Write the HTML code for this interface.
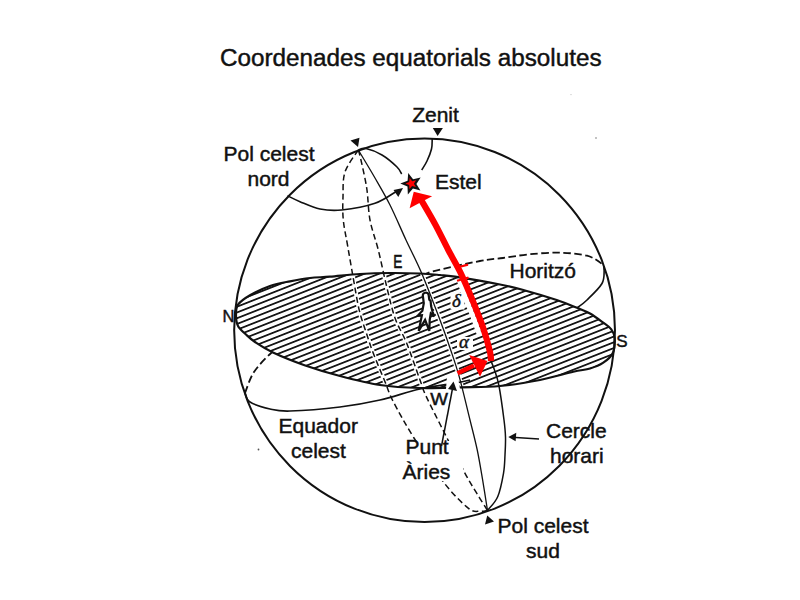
<!DOCTYPE html>
<html><head><meta charset="utf-8"><style>
html,body{margin:0;padding:0;background:#fff;width:800px;height:600px;overflow:hidden}
svg{display:block}
</style></head><body>
<svg width="800" height="600" viewBox="0 0 800 600">
<defs>
<pattern id="hatch" patternUnits="userSpaceOnUse" width="20" height="5.35" patternTransform="rotate(-21.5) translate(0,2.2)">
<rect x="0" y="0" width="20" height="1.75" fill="#111"/>
</pattern>
<mask id="outell"><rect x="0" y="0" width="800" height="600" fill="#fff"/><path d="M236.00,315.30 C236.00,311.75 235.67,308.03 238.00,304.70 C240.33,301.37 244.67,298.42 250.00,295.30 C255.33,292.18 263.33,288.33 270.00,286.00 C276.67,283.67 283.33,282.63 290.00,281.30 C296.67,279.97 303.33,278.77 310.00,278.00 C316.67,277.23 321.67,277.37 330.00,276.70 C338.33,276.03 350.00,274.62 360.00,274.00 C370.00,273.38 380.00,273.08 390.00,273.00 C400.00,272.92 411.67,273.17 420.00,273.50 C428.33,273.83 434.17,274.47 440.00,275.00 C445.83,275.53 445.00,275.12 455.00,276.70 C465.00,278.28 488.62,282.28 500.00,284.50 C511.38,286.72 513.85,287.42 523.30,290.00 C532.75,292.58 547.75,297.03 556.70,300.00 C565.65,302.97 571.45,305.55 577.00,307.80 C582.55,310.05 585.62,311.02 590.00,313.50 C594.38,315.98 599.75,320.07 603.30,322.70 C606.85,325.33 609.40,326.75 611.30,329.30 C613.20,331.85 614.47,334.00 614.70,338.00 C614.93,342.00 614.60,349.18 612.70,353.30 C610.80,357.42 607.08,360.17 603.30,362.70 C599.52,365.23 595.00,367.00 590.00,368.50 C585.00,370.00 581.63,369.78 573.30,371.70 C564.97,373.62 552.22,377.62 540.00,380.00 C527.78,382.38 513.17,384.78 500.00,386.00 C486.83,387.22 474.33,386.97 461.00,387.30 C447.67,387.63 433.50,388.38 420.00,388.00 C406.50,387.62 393.33,387.00 380.00,385.00 C366.67,383.00 352.58,379.30 340.00,376.00 C327.42,372.70 315.67,369.12 304.50,365.20 C293.33,361.28 281.25,356.37 273.00,352.50 C264.75,348.63 259.50,345.00 255.00,342.00 C250.50,339.00 248.83,337.17 246.00,334.50 C243.17,331.83 239.67,329.20 238.00,326.00 C236.33,322.80 236.00,318.85 236.00,315.30 Z" fill="#000"/></mask>
<clipPath id="ellclip"><path d="M236.00,315.30 C236.00,311.75 235.67,308.03 238.00,304.70 C240.33,301.37 244.67,298.42 250.00,295.30 C255.33,292.18 263.33,288.33 270.00,286.00 C276.67,283.67 283.33,282.63 290.00,281.30 C296.67,279.97 303.33,278.77 310.00,278.00 C316.67,277.23 321.67,277.37 330.00,276.70 C338.33,276.03 350.00,274.62 360.00,274.00 C370.00,273.38 380.00,273.08 390.00,273.00 C400.00,272.92 411.67,273.17 420.00,273.50 C428.33,273.83 434.17,274.47 440.00,275.00 C445.83,275.53 445.00,275.12 455.00,276.70 C465.00,278.28 488.62,282.28 500.00,284.50 C511.38,286.72 513.85,287.42 523.30,290.00 C532.75,292.58 547.75,297.03 556.70,300.00 C565.65,302.97 571.45,305.55 577.00,307.80 C582.55,310.05 585.62,311.02 590.00,313.50 C594.38,315.98 599.75,320.07 603.30,322.70 C606.85,325.33 609.40,326.75 611.30,329.30 C613.20,331.85 614.47,334.00 614.70,338.00 C614.93,342.00 614.60,349.18 612.70,353.30 C610.80,357.42 607.08,360.17 603.30,362.70 C599.52,365.23 595.00,367.00 590.00,368.50 C585.00,370.00 581.63,369.78 573.30,371.70 C564.97,373.62 552.22,377.62 540.00,380.00 C527.78,382.38 513.17,384.78 500.00,386.00 C486.83,387.22 474.33,386.97 461.00,387.30 C447.67,387.63 433.50,388.38 420.00,388.00 C406.50,387.62 393.33,387.00 380.00,385.00 C366.67,383.00 352.58,379.30 340.00,376.00 C327.42,372.70 315.67,369.12 304.50,365.20 C293.33,361.28 281.25,356.37 273.00,352.50 C264.75,348.63 259.50,345.00 255.00,342.00 C250.50,339.00 248.83,337.17 246.00,334.50 C243.17,331.83 239.67,329.20 238.00,326.00 C236.33,322.80 236.00,318.85 236.00,315.30 Z"/></clipPath>
</defs>
<path d="M236.00,315.30 C236.00,311.75 235.67,308.03 238.00,304.70 C240.33,301.37 244.67,298.42 250.00,295.30 C255.33,292.18 263.33,288.33 270.00,286.00 C276.67,283.67 283.33,282.63 290.00,281.30 C296.67,279.97 303.33,278.77 310.00,278.00 C316.67,277.23 321.67,277.37 330.00,276.70 C338.33,276.03 350.00,274.62 360.00,274.00 C370.00,273.38 380.00,273.08 390.00,273.00 C400.00,272.92 411.67,273.17 420.00,273.50 C428.33,273.83 434.17,274.47 440.00,275.00 C445.83,275.53 445.00,275.12 455.00,276.70 C465.00,278.28 488.62,282.28 500.00,284.50 C511.38,286.72 513.85,287.42 523.30,290.00 C532.75,292.58 547.75,297.03 556.70,300.00 C565.65,302.97 571.45,305.55 577.00,307.80 C582.55,310.05 585.62,311.02 590.00,313.50 C594.38,315.98 599.75,320.07 603.30,322.70 C606.85,325.33 609.40,326.75 611.30,329.30 C613.20,331.85 614.47,334.00 614.70,338.00 C614.93,342.00 614.60,349.18 612.70,353.30 C610.80,357.42 607.08,360.17 603.30,362.70 C599.52,365.23 595.00,367.00 590.00,368.50 C585.00,370.00 581.63,369.78 573.30,371.70 C564.97,373.62 552.22,377.62 540.00,380.00 C527.78,382.38 513.17,384.78 500.00,386.00 C486.83,387.22 474.33,386.97 461.00,387.30 C447.67,387.63 433.50,388.38 420.00,388.00 C406.50,387.62 393.33,387.00 380.00,385.00 C366.67,383.00 352.58,379.30 340.00,376.00 C327.42,372.70 315.67,369.12 304.50,365.20 C293.33,361.28 281.25,356.37 273.00,352.50 C264.75,348.63 259.50,345.00 255.00,342.00 C250.50,339.00 248.83,337.17 246.00,334.50 C243.17,331.83 239.67,329.20 238.00,326.00 C236.33,322.80 236.00,318.85 236.00,315.30 Z" fill="url(#hatch)" stroke="none"/>
<path d="M459.50,281.00 C460.58,284.00 463.67,292.83 466.00,299.00 C468.33,305.17 471.25,312.00 473.50,318.00 C475.75,324.00 478.50,332.17 479.50,335.00" fill="none" stroke="#fff" stroke-width="5" clip-path="url(#ellclip)"/>
<rect x="450.5" y="292.5" width="14" height="17" fill="#fff"/>
<rect x="457" y="337" width="16" height="13" fill="#fff"/>
<path d="M358.30,150.00 C356.08,153.67 347.55,164.17 345.00,172.00 C342.45,179.83 343.28,189.00 343.00,197.00 C342.72,205.00 342.55,212.00 343.30,220.00 C344.05,228.00 345.83,235.28 347.50,245.00 C349.17,254.72 351.35,267.47 353.30,278.30 C355.25,289.13 357.08,301.05 359.20,310.00 C361.32,318.95 363.65,324.78 366.00,332.00 C368.35,339.22 370.13,345.02 373.30,353.30 C376.47,361.58 381.67,373.63 385.00,381.70 C388.33,389.77 388.47,392.32 393.30,401.70 C398.13,411.08 405.55,424.50 414.00,438.00 C422.45,451.50 434.92,470.98 444.00,482.70 C453.08,494.42 462.47,503.54 468.50,508.30 C474.53,513.06 477.03,510.88 480.20,511.25 C483.37,511.62 486.28,510.62 487.50,510.50" fill="none" stroke="#fff" stroke-width="4" clip-path="url(#ellclip)"/>
<path d="M358.30,150.00 C358.67,151.33 359.10,151.67 360.50,158.00 C361.90,164.33 365.12,177.67 366.70,188.00 C368.28,198.33 368.07,209.67 370.00,220.00 C371.93,230.33 375.52,238.88 378.30,250.00 C381.08,261.12 383.92,275.37 386.70,286.70 C389.48,298.03 391.67,308.57 395.00,318.00 C398.33,327.43 402.53,332.97 406.70,343.30 C410.87,353.63 416.78,371.22 420.00,380.00 C423.22,388.78 422.00,387.33 426.00,396.00 C430.00,404.67 437.50,419.12 444.00,432.00 C450.50,444.88 459.55,463.10 465.00,473.30 C470.45,483.50 472.95,487.00 476.70,493.20 C480.45,499.40 485.70,507.62 487.50,510.50" fill="none" stroke="#fff" stroke-width="4" clip-path="url(#ellclip)"/>
<path d="M358.30,150.00 C361.08,154.67 369.72,168.83 375.00,178.00 C380.28,187.17 384.83,194.67 390.00,205.00 C395.17,215.33 400.72,228.62 406.00,240.00 C411.28,251.38 416.03,259.97 421.70,273.30 C427.37,286.63 435.28,307.55 440.00,320.00 C444.72,332.45 446.80,338.55 450.00,348.00 C453.20,357.45 455.87,364.70 459.20,376.70 C462.53,388.70 466.99,407.78 470.00,420.00 C473.01,432.22 475.17,440.13 477.25,450.00 C479.33,459.87 480.79,469.12 482.50,479.20 C484.21,489.28 486.67,505.28 487.50,510.50" fill="none" stroke="#fff" stroke-width="4" clip-path="url(#ellclip)"/>
<path d="M236.00,315.30 C236.00,311.75 235.67,308.03 238.00,304.70 C240.33,301.37 244.67,298.42 250.00,295.30 C255.33,292.18 263.33,288.33 270.00,286.00 C276.67,283.67 283.33,282.63 290.00,281.30 C296.67,279.97 303.33,278.77 310.00,278.00 C316.67,277.23 321.67,277.37 330.00,276.70 C338.33,276.03 350.00,274.62 360.00,274.00 C370.00,273.38 380.00,273.08 390.00,273.00 C400.00,272.92 411.67,273.17 420.00,273.50 C428.33,273.83 434.17,274.47 440.00,275.00 C445.83,275.53 445.00,275.12 455.00,276.70 C465.00,278.28 488.62,282.28 500.00,284.50 C511.38,286.72 513.85,287.42 523.30,290.00 C532.75,292.58 547.75,297.03 556.70,300.00 C565.65,302.97 571.45,305.55 577.00,307.80 C582.55,310.05 585.62,311.02 590.00,313.50 C594.38,315.98 599.75,320.07 603.30,322.70 C606.85,325.33 609.40,326.75 611.30,329.30 C613.20,331.85 614.47,334.00 614.70,338.00 C614.93,342.00 614.60,349.18 612.70,353.30 C610.80,357.42 607.08,360.17 603.30,362.70 C599.52,365.23 595.00,367.00 590.00,368.50 C585.00,370.00 581.63,369.78 573.30,371.70 C564.97,373.62 552.22,377.62 540.00,380.00 C527.78,382.38 513.17,384.78 500.00,386.00 C486.83,387.22 474.33,386.97 461.00,387.30 C447.67,387.63 433.50,388.38 420.00,388.00 C406.50,387.62 393.33,387.00 380.00,385.00 C366.67,383.00 352.58,379.30 340.00,376.00 C327.42,372.70 315.67,369.12 304.50,365.20 C293.33,361.28 281.25,356.37 273.00,352.50 C264.75,348.63 259.50,345.00 255.00,342.00 C250.50,339.00 248.83,337.17 246.00,334.50 C243.17,331.83 239.67,329.20 238.00,326.00 C236.33,322.80 236.00,318.85 236.00,315.30 Z" fill="none" stroke="#111" stroke-width="2.2"/>
<ellipse cx="424.57" cy="330.3" rx="190.4" ry="191.8" fill="none" stroke="#111" stroke-width="2"/>
<path d="M245.00,393.00 C246.50,389.50 249.55,378.75 254.00,372.00 C258.45,365.25 265.87,357.70 271.70,352.50 C277.53,347.30 284.62,344.05 289.00,340.80 C293.38,337.55 294.00,335.63 298.00,333.00 C302.00,330.37 307.67,327.72 313.00,325.00 C318.33,322.28 317.72,322.82 330.00,316.70 C342.28,310.58 371.70,294.83 386.70,288.30 C401.70,281.77 412.50,280.27 420.00,277.50 C427.50,274.73 421.70,274.45 431.70,271.70 C441.70,268.95 468.12,263.28 480.00,261.00 C491.88,258.72 494.67,259.13 503.00,258.00 C511.33,256.87 520.50,255.08 530.00,254.20 C539.50,253.32 550.50,252.45 560.00,252.70 C569.50,252.95 580.00,253.82 587.00,255.70 C594.00,257.58 599.13,261.62 602.00,264.00 C604.87,266.38 603.83,269.00 604.20,270.00" fill="none" stroke="#111" stroke-width="1.8" stroke-dasharray="7.5 3.5" mask="url(#outell)"/>
<path d="M358.30,150.00 C356.08,153.67 347.55,164.17 345.00,172.00 C342.45,179.83 343.28,189.00 343.00,197.00 C342.72,205.00 342.55,212.00 343.30,220.00 C344.05,228.00 345.83,235.28 347.50,245.00 C349.17,254.72 351.35,267.47 353.30,278.30 C355.25,289.13 357.08,301.05 359.20,310.00 C361.32,318.95 363.65,324.78 366.00,332.00 C368.35,339.22 370.13,345.02 373.30,353.30 C376.47,361.58 381.67,373.63 385.00,381.70 C388.33,389.77 388.47,392.32 393.30,401.70 C398.13,411.08 405.55,424.50 414.00,438.00 C422.45,451.50 434.92,470.98 444.00,482.70 C453.08,494.42 462.47,503.54 468.50,508.30 C474.53,513.06 477.03,510.88 480.20,511.25 C483.37,511.62 486.28,510.62 487.50,510.50" fill="none" stroke="#111" stroke-width="1.5" stroke-dasharray="6 3.5"/>
<path d="M358.30,150.00 C358.67,151.33 359.10,151.67 360.50,158.00 C361.90,164.33 365.12,177.67 366.70,188.00 C368.28,198.33 368.07,209.67 370.00,220.00 C371.93,230.33 375.52,238.88 378.30,250.00 C381.08,261.12 383.92,275.37 386.70,286.70 C389.48,298.03 391.67,308.57 395.00,318.00 C398.33,327.43 402.53,332.97 406.70,343.30 C410.87,353.63 416.78,371.22 420.00,380.00 C423.22,388.78 422.00,387.33 426.00,396.00 C430.00,404.67 437.50,419.12 444.00,432.00 C450.50,444.88 459.55,463.10 465.00,473.30 C470.45,483.50 472.95,487.00 476.70,493.20 C480.45,499.40 485.70,507.62 487.50,510.50" fill="none" stroke="#111" stroke-width="1.5" stroke-dasharray="6 3.5"/>
<path d="M604.20,270.00 C603.83,272.25 604.87,278.50 602.00,283.50 C599.13,288.50 591.17,295.92 587.00,300.00 C582.83,304.08 578.67,306.67 577.00,308.00" fill="none" stroke="#111" stroke-width="1.6"/>
<path d="M245.00,393.00 C245.83,394.50 245.83,399.33 250.00,402.00 C254.17,404.67 263.33,407.50 270.00,409.00 C276.67,410.50 278.33,411.33 290.00,411.00 C301.67,410.67 325.00,408.83 340.00,407.00 C355.00,405.17 366.67,403.00 380.00,400.00 C393.33,397.00 407.33,391.83 420.00,389.00 C432.67,386.17 447.67,384.50 456.00,383.00 C464.33,381.50 467.67,380.50 470.00,380.00" fill="none" stroke="#111" stroke-width="1.7"/>
<path d="M358.30,150.00 C361.08,154.67 369.72,168.83 375.00,178.00 C380.28,187.17 384.83,194.67 390.00,205.00 C395.17,215.33 400.72,228.62 406.00,240.00 C411.28,251.38 416.03,259.97 421.70,273.30 C427.37,286.63 435.28,307.55 440.00,320.00 C444.72,332.45 446.80,338.55 450.00,348.00 C453.20,357.45 455.87,364.70 459.20,376.70 C462.53,388.70 466.99,407.78 470.00,420.00 C473.01,432.22 475.17,440.13 477.25,450.00 C479.33,459.87 480.79,469.12 482.50,479.20 C484.21,489.28 486.67,505.28 487.50,510.50" fill="none" stroke="#111" stroke-width="1.3"/>
<path d="M358.30,150.00 C359.58,149.75 362.05,147.67 366.00,148.50 C369.95,149.33 376.83,151.92 382.00,155.00 C387.17,158.08 393.72,163.83 397.00,167.00 C400.28,170.17 400.92,172.83 401.70,174.00" fill="none" stroke="#111" stroke-width="1.6"/>
<path d="M491.00,361.00 C491.58,362.50 493.17,365.83 494.50,370.00 C495.83,374.17 497.42,377.67 499.00,386.00 C500.58,394.33 502.92,411.50 504.00,420.00 C505.08,428.50 505.33,431.17 505.50,437.00 C505.67,442.83 505.33,448.95 505.00,455.00 C504.67,461.05 504.72,466.35 503.50,473.30 C502.28,480.25 500.37,490.50 497.70,496.70 C495.03,502.90 489.20,508.20 487.50,510.50" fill="none" stroke="#111" stroke-width="1.5"/>
<path d="M432.20,139.00 C432.08,140.67 432.37,145.33 431.50,149.00 C430.63,152.67 428.63,157.50 427.00,161.00 C425.37,164.50 422.58,168.50 421.70,170.00" fill="none" stroke="#111" stroke-width="1.6"/>
<path d="M287.50,195.80 C289.58,196.78 294.58,199.50 300.00,201.70 C305.42,203.90 313.05,207.62 320.00,209.00 C326.95,210.38 332.53,210.95 341.70,210.00 C350.87,209.05 365.78,206.47 375.00,203.30 C384.22,200.13 393.33,193.05 397.00,191.00" fill="none" stroke="#111" stroke-width="1.6"/>
<path d="M420.00,198.00 C422.50,202.33 430.28,215.33 435.00,224.00 C439.72,232.67 444.13,242.05 448.30,250.00 C452.47,257.95 456.10,263.65 460.00,271.70 C463.90,279.75 467.82,288.87 471.70,298.30 C475.58,307.73 480.25,319.35 483.30,328.30 C486.35,337.25 488.72,346.55 490.00,352.00 C491.28,357.45 490.83,359.50 491.00,361.00" fill="none" stroke="#f00" stroke-width="6.2"/>
<polygon points="413.75,191.7 432.1,196.25 409.6,208.3" fill="#f00"/>
<path d="M458,267.2 L468,264.6 M457,280.8 L468.5,277.6" stroke="#f00" stroke-width="2.2" fill="none"/>
<line x1="457.5" y1="373.3" x2="474" y2="365.5" stroke="#f00" stroke-width="4.5"/>
<polygon points="469.2,355 487.5,361 480,376.7" fill="#f00"/>
<polygon points="408.23,173.09 413.10,179.17 420.67,177.38 416.40,183.89 420.44,190.54 412.93,188.49 407.85,194.39 407.49,186.61 400.30,183.60 407.59,180.85" fill="#111"/>
<polygon points="409.60,178.05 412.15,181.14 416.05,180.27 413.90,183.65 415.93,187.09 412.06,186.09 409.41,189.08 409.17,185.09 405.50,183.50 409.22,182.04" fill="#f00"/>
<polygon points="350.5,140.5 359.5,137.7 358,147" fill="#111"/>
<polygon points="432.8,128 442.9,128 437.6,135.9" fill="#111"/>
<polygon points="487.25,515.6 494,521.5 485,524.5" fill="#111"/>
<polygon points="403,188 393.5,190 398.3,197" fill="#111"/>
<rect x="400" y="441" width="63" height="40" fill="#fff"/>
<polygon points="446,389 447,377 457,372 460,389" fill="#fff"/>
<line x1="441.5" y1="446" x2="453" y2="386" stroke="#111" stroke-width="1.5"/>
<polygon points="453.5,381.5 448,389 457,391" fill="#111"/>
<line x1="539" y1="439" x2="512" y2="437.2" stroke="#111" stroke-width="1.5"/>
<polygon points="508.3,437 516.3,432.8 515.6,441.3" fill="#111"/>
<path d="M422.8,295.5 C422.8,292.5 427.5,291.5 428.6,294.5 L429.3,299.7 L430.6,300.8 L431.1,306.1 L432.5,311.6 L434.3,316.5 L430.8,313.4 L429.7,319.9 L429.3,330.9 L425.1,319.9 L418.7,330.9 L421.9,315.3 L417.8,315.6 L422.4,310.7 L423.8,303.3 Z" fill="#fff" stroke="#111" stroke-width="2.2" stroke-linejoin="miter"/>
<circle cx="258.5" cy="449.5" r="0.9" fill="#555"/>
<circle cx="596" cy="138" r="0.8" fill="#777"/>
<circle cx="571" cy="94.6" r="0.6" fill="#bbb"/>
<text x="220" y="65.7" font-size="24.25" font-family="Liberation Sans, sans-serif" fill="#111" stroke="#111" stroke-width="0.45" >Coordenades equatorials absolutes</text>
<text x="412.2" y="121.8" font-size="21" font-family="Liberation Sans, sans-serif" fill="#111" stroke="#111" stroke-width="0.45" >Zenit</text>
<text x="223.5" y="161" font-size="21" font-family="Liberation Sans, sans-serif" fill="#111" stroke="#111" stroke-width="0.45" >Pol celest</text>
<text x="247.5" y="186" font-size="21" font-family="Liberation Sans, sans-serif" fill="#111" stroke="#111" stroke-width="0.45" >nord</text>
<text x="435" y="189.2" font-size="21" font-family="Liberation Sans, sans-serif" fill="#111" stroke="#111" stroke-width="0.45" >Estel</text>
<text x="509.5" y="278.2" font-size="21" font-family="Liberation Sans, sans-serif" fill="#111" stroke="#111" stroke-width="0.45" >Horitzó</text>
<text x="278.5" y="433.1" font-size="21" font-family="Liberation Sans, sans-serif" fill="#111" stroke="#111" stroke-width="0.45" >Equador</text>
<text x="291" y="458.1" font-size="21" font-family="Liberation Sans, sans-serif" fill="#111" stroke="#111" stroke-width="0.45" >celest</text>
<text x="405.5" y="453.5" font-size="21" font-family="Liberation Sans, sans-serif" fill="#111" stroke="#111" stroke-width="0.45" >Punt</text>
<text x="402.5" y="479" font-size="21" font-family="Liberation Sans, sans-serif" fill="#111" stroke="#111" stroke-width="0.45" >Àries</text>
<text x="546" y="437.5" font-size="21" font-family="Liberation Sans, sans-serif" fill="#111" stroke="#111" stroke-width="0.45" >Cercle</text>
<text x="550" y="462.5" font-size="21" font-family="Liberation Sans, sans-serif" fill="#111" stroke="#111" stroke-width="0.45" >horari</text>
<text x="497.5" y="532.7" font-size="21" font-family="Liberation Sans, sans-serif" fill="#111" stroke="#111" stroke-width="0.45" >Pol celest</text>
<text x="526" y="557.75" font-size="21" font-family="Liberation Sans, sans-serif" fill="#111" stroke="#111" stroke-width="0.45" >sud</text>
<text x="222.5" y="322.2" font-size="16.5" font-family="Liberation Sans, sans-serif" fill="#111" stroke="#111" stroke-width="0.45" >N</text>
<text x="616.3" y="347.3" font-size="17" font-family="Liberation Sans, sans-serif" fill="#111" stroke="#111" stroke-width="0.45" >S</text>
<text x="0" y="0" font-size="18.5" font-family="Liberation Sans, sans-serif" fill="#111" stroke="#111" stroke-width="0.6" transform="translate(393.2,268) scale(0.74,1)">E</text>
<text x="0" y="0" font-size="16.5" font-family="Liberation Sans, sans-serif" fill="#111" stroke="#111" stroke-width="0.45" transform="translate(430.3,405.2) scale(1.14,1)">W</text>
<text x="452" y="307.3" font-size="19" font-family="Liberation Serif, serif" font-style="italic" fill="#111" stroke="#111" stroke-width="0.45">δ</text>
<text x="459" y="348.2" font-size="19" font-family="Liberation Serif, serif" font-style="italic" fill="#111" stroke="#111" stroke-width="0.45">α</text>
</svg>
</body></html>
